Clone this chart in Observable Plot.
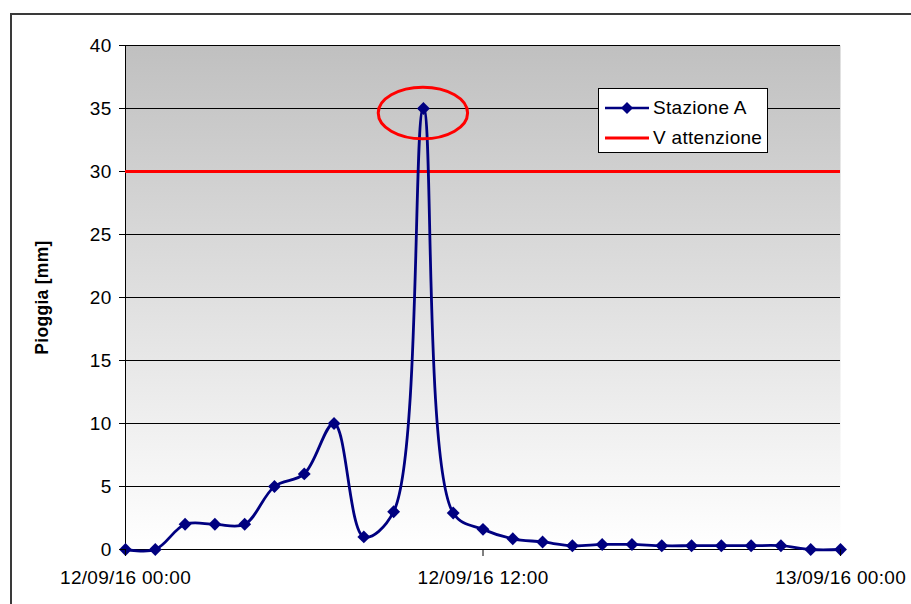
<!DOCTYPE html>
<html>
<head>
<meta charset="utf-8">
<script src="https://cdn.jsdelivr.net/npm/d3@7"></script>
<script src="https://cdn.jsdelivr.net/npm/@observablehq/plot@0.6"></script>
<style>
  html, body { margin: 0; padding: 0; background: #fff; overflow: hidden; }
  #wrap { position: relative; width: 911px; height: 604px; font-family: "Liberation Sans", Arial, sans-serif; }
  #border { position: absolute; left: 10px; top: 13px; width: 1000px; height: 1000px; border-left: 2px solid #3a3a3a; border-top: 2px solid #3a3a3a; pointer-events: none; }
  #legend { position: absolute; left: 598px; top: 88px; width: 168px; height: 63px; border: 1px solid #000; background: #fff; font-size: 19px; letter-spacing: 0.3px; color: #000; }
  .row { position: absolute; left: 6px; height: 24px; display: flex; align-items: center; }
  .row span { margin-left: 4px; white-space: nowrap; }
</style>
</head>
<body>
<div id="wrap">
  <div id="chart"></div>
  <div id="border"></div>
  <div id="legend"></div>
</div>
<script>
// ---- data ----
const startTime = "2016-09-12T00:00:00Z";
const hours = [0,1,2,3,4,5,6,7,8,9,10,11,12,13,14,15,16,17,18,19,20,21,22,23,24];
const rain  = [0,0,2,2,2,5,6,10,1,3,35,2.9,1.6,0.85,0.6,0.3,0.4,0.4,0.3,0.3,0.3,0.3,0.3,0,0];
const seriesName = "Stazione A";
const thresholdName = "V attenzione";
const threshold = 30;
const yTicks = [0,5,10,15,20,25,30,35,40];
const xTickHours = [0,12,24];
const yLabel = "Pioggia [mm]";

const t0 = new Date(startTime);
const toDate = h => new Date(t0.getTime() + h * 3600e3);
const data = hours.map((h, i) => ({t: toDate(h), v: rain[i]}));
const peakIdx = rain.indexOf(d3.max(rain));
const fmt = d3.utcFormat("%d/%m/%y %H:%M");

const navy = "#000080";
const red = "#ff0000";

const chart = Plot.plot({
  width: 911,
  height: 604,
  marginLeft: 125,
  marginRight: 71,
  marginTop: 45,
  marginBottom: 55,
  style: {fontFamily: "Liberation Sans, Arial, sans-serif", background: "transparent", overflow: "visible", letterSpacing: "0.3px"},
  x: {type: "utc", domain: [toDate(0), toDate(24)]},
  y: {domain: [0, 40]},
  marks: [
    Plot.frame({fill: "url(#bgGrad)", stroke: "none"}),
    Plot.ruleY(yTicks, {stroke: "#000", strokeWidth: 1}),
    Plot.ruleX([toDate(0)], {stroke: "#000", strokeWidth: 1}),
    Plot.ruleY([threshold], {stroke: red, strokeWidth: 3}),
    Plot.line(data, {x: "t", y: "v", stroke: navy, strokeWidth: 2.8, curve: "catmull-rom"}),
    Plot.dot(data, {x: "t", y: "v", symbol: "diamond2", r: 5.8, fill: navy, stroke: "none"}),
    Plot.axisY({ticks: yTicks, tickSize: 6, tickPadding: 8, fontSize: 19, label: null, stroke: "#000"}),
    Plot.axisX({ticks: xTickHours.map(toDate), tickFormat: fmt, tickSize: 7, tickPadding: 14, fontSize: 19, label: null, stroke: "#000"}),
    Plot.text([yLabel], {frameAnchor: "left", dx: -83, rotate: -90, textAnchor: "middle", fontSize: 17.5, fontWeight: "bold", fill: "#000"})
  ]
});

// gradient background
const svg = d3.select(chart);
const defs = svg.insert("defs", ":first-child");
const g = defs.append("linearGradient").attr("id", "bgGrad").attr("x1", 0).attr("y1", 0).attr("x2", 0).attr("y2", 1);
g.append("stop").attr("offset", "0%").attr("stop-color", "#c0c0c0");
g.append("stop").attr("offset", "100%").attr("stop-color", "#ffffff");

// annotation ellipse around the peak
const sx = chart.scale("x"), sy = chart.scale("y");
const cx = sx.apply(data[peakIdx].t), cy = sy.apply(data[peakIdx].v - 0.4);
const rx = sx.apply(toDate(hours[peakIdx] + 1.5)) - cx;
const ry = sy.apply(0) - sy.apply(2.05);
svg.append("ellipse").attr("cx", cx).attr("cy", cy).attr("rx", rx).attr("ry", ry)
  .attr("fill", "none").attr("stroke", red).attr("stroke-width", 3);

document.getElementById("chart").appendChild(chart);

// legend
const legend = document.getElementById("legend");
function row(top, color, marker, label) {
  const r = document.createElement("div");
  r.className = "row";
  r.style.top = top + "px";
  r.innerHTML = `<svg width="44" height="14"><line x1="0" x2="44" y1="7" y2="7" stroke="${color}" stroke-width="${marker ? 2.5 : 3}"/>` +
    (marker ? `<path d="M22,1 L28,7 L22,13 L16,7 Z" fill="${navy}"/>` : "") + `</svg><span>${label}</span>`;
  legend.appendChild(r);
}
row(7, navy, true, seriesName);
row(37, red, false, thresholdName);
</script>
</body>
</html>
